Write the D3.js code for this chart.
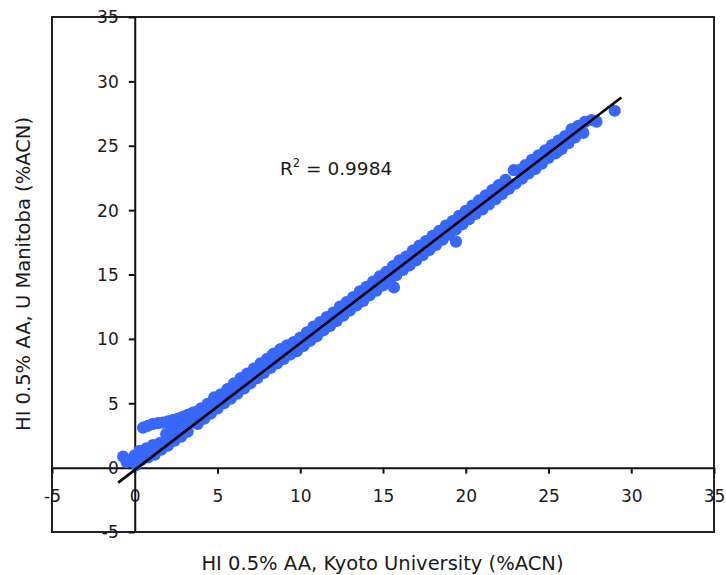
<!DOCTYPE html>
<html>
<head>
<meta charset="utf-8">
<script src="https://cdn.jsdelivr.net/npm/d3@7/dist/d3.min.js"></script>
<style>
  html, body { margin: 0; padding: 0; background: #fff; }
  svg { display: block; }
  text { font-family: "DejaVu Sans", Verdana, sans-serif; fill: #1a1a1a; }
</style>
</head>
<body>
<svg id="chart" width="726" height="575"></svg>
<script>
// Retention comparison: HI 0.5% AA, Kyoto University vs U Manitoba (%ACN)
const kyoto = [
  // early eluting peptides
  -0.7, -0.5, 0.0, 0.1, 0.3, 0.4, 0.7, 0.8, 1.1, 1.2, 1.5, 1.6, 1.9, 2.0, 2.3, 2.4, 2.7, 2.8, 3.1, 3.2,
  0.5, 0.8, 1.1, 1.4, 1.7, 2.0, 2.3, 2.6, 2.9, 3.2, 3.5, 3.8,
  1.9, 2.2, 2.5, 2.8, 3.1, 3.4,
  // 3.6 - 9.4
  3.6, 3.7, 3.8, 4.0, 4.1, 4.2, 4.4, 4.5, 4.6, 4.8, 4.9, 5.0, 5.2, 5.3, 5.4, 5.6, 5.7, 5.8,
  6.0, 6.1, 6.2, 6.4, 6.5, 6.6, 6.8, 6.9, 7.0, 7.2, 7.3, 7.4, 7.6, 7.7, 7.8,
  8.0, 8.1, 8.2, 8.3, 8.4, 8.5, 8.6, 8.8, 8.9, 9.0, 9.2, 9.3, 9.4,
  // 9.6 onward
  9.6, 9.8, 10.0, 10.2,
  10.4, 10.6, 10.8, 11.0, 11.2, 11.4, 11.6, 11.8, 12.0, 12.2, 12.4, 12.6, 12.8, 13.0,
  13.2, 13.4, 13.6, 13.8, 14.0, 14.2, 14.4, 14.6, 14.8, 15.0, 15.2, 15.4, 15.6, 15.66, 15.8,
  16.0, 16.2, 16.4, 16.6, 16.8, 17.0, 17.2, 17.4, 17.6, 17.8, 18.0, 18.2, 18.4, 18.6,
  18.8, 19.0, 19.2, 19.4, 19.41, 19.6, 19.8, 20.0, 20.2, 20.4, 20.6, 20.8, 21.0, 21.2, 21.4,
  21.6, 21.8, 22.0, 22.2, 22.4, 22.6, 22.9, 23.0, 23.2, 23.4, 23.6, 23.8, 24.0, 24.2,
  24.4, 24.6, 24.8, 25.0, 25.2, 25.4, 25.5, 25.6, 25.8, 26.0, 26.2, 26.4, 26.6, 26.8,
  27.1, 27.2, 27.6, 27.9, 29.0
];
const manitoba = [
  0.85, 0.45, 0.95, 0.2, 1.3, 0.6, 1.5, 0.8, 1.75, 1.0, 1.9, 1.4, 2.1, 1.7, 2.4, 2.1, 2.7, 2.4, 3.1, 2.8,
  3.1, 3.25, 3.4, 3.45, 3.5, 3.6, 3.7, 3.8, 3.95, 4.1, 4.25, 4.35,
  2.6, 2.9, 3.1, 3.2, 3.5, 3.7,
  4.30, 3.80, 3.40, 4.60, 4.20, 3.80, 4.95, 4.60, 4.20, 5.45, 5.00, 4.60, 5.70, 5.35, 5.00, 6.10, 5.80, 5.35,
  6.55, 6.15, 5.75, 6.95, 6.55, 6.15, 7.30, 6.95, 6.55, 7.70, 7.35, 6.95, 8.10, 7.75, 7.35,
  8.45, 8.15, 7.75, 8.70, 8.85, 8.50, 8.10, 9.20, 8.90, 8.45, 9.50, 9.25, 8.80,
  9.75, 9.05, 10.10, 9.45,
  10.50, 9.85, 10.95, 10.20, 11.30, 10.65, 11.70, 11.00, 12.05, 11.40, 12.50, 11.80, 12.85, 12.20,
  13.25, 12.60, 13.70, 12.95, 14.05, 13.40, 14.45, 13.75, 14.85, 14.15, 15.20, 14.55, 15.65, 14.00, 14.95,
  16.10, 15.35, 16.40, 15.70, 16.85, 16.10, 17.25, 16.50, 17.60, 16.90, 18.00, 17.30, 18.40, 17.70,
  18.80, 18.10, 19.15, 18.50, 17.55, 19.55, 18.90, 19.95, 19.30, 20.35, 19.70, 20.75, 20.05, 21.15, 20.45,
  21.55, 20.85, 21.95, 21.25, 22.35, 21.65, 23.10, 22.05, 23.10, 22.45, 23.50, 22.85, 23.90, 23.20,
  24.25, 23.60, 24.65, 24.05, 25.05, 24.40, 24.50, 25.40, 24.75, 25.75, 25.20, 26.30, 25.65, 26.55,
  26.00, 26.85, 27.00, 26.87, 27.72
];
// Linear trendline fitted to the series, and its stated fit
const trendSlope = 0.984;
const trendIntercept = -0.18;
const trendRange = [-1.0, 29.4];
const rSquared = "0.9984";
const tickValues = [-5, 0, 5, 10, 15, 20, 25, 30, 35];
const xTitle = "HI 0.5% AA, Kyoto University (%ACN)";
const yTitle = "HI 0.5% AA, U Manitoba (%ACN)";

const svg = d3.select("#chart");
const frame = { left: 52, top: 17, right: 714, bottom: 532 };

const x = d3.scaleLinear().domain([-5, 35]).range([frame.left, frame.right]);
const y = d3.scaleLinear().domain([-5, 35]).range([frame.bottom, frame.top]);
const fmt = d => String(d);   // plain hyphen for negatives

// Plot frame
svg.append("rect")
  .attr("x", frame.left).attr("y", frame.top)
  .attr("width", frame.right - frame.left).attr("height", frame.bottom - frame.top)
  .attr("fill", "none").attr("stroke", "#222").attr("stroke-width", 2);

// Axes crossing at the origin
const xAxis = svg.append("g")
  .attr("transform", `translate(0,${y(0)})`)
  .call(d3.axisBottom(x).tickValues(tickValues).tickSize(6).tickSizeOuter(0).tickFormat(fmt));
xAxis.select(".domain").attr("stroke", "#111").attr("stroke-width", 2);
xAxis.selectAll(".tick line").attr("stroke", "#111").attr("stroke-width", 2);
xAxis.selectAll(".tick text")
  .attr("y", 28.5).attr("dy", "0.35em")
  .style("font-size", "17px").style("font-family", "DejaVu Sans, Verdana, sans-serif").attr("fill", "#1a1a1a");

const yAxis = svg.append("g")
  .attr("transform", `translate(${x(0)},0)`)
  .call(d3.axisLeft(y).tickValues(tickValues).tickSize(6).tickSizeOuter(0).tickFormat(fmt));
yAxis.select(".domain").attr("stroke", "#111").attr("stroke-width", 2);
yAxis.selectAll(".tick line").attr("stroke", "#111").attr("stroke-width", 2);
yAxis.selectAll(".tick text")
  .attr("x", -16).attr("dy", "0.35em")
  .style("font-size", "17px").style("font-family", "DejaVu Sans, Verdana, sans-serif").attr("fill", "#1a1a1a");

// Data points
const points = kyoto.map((k, i) => ({ k, m: manitoba[i] }));
svg.append("g")
  .selectAll("circle")
  .data(points)
  .join("circle")
  .attr("cx", d => x(d.k))
  .attr("cy", d => y(d.m))
  .attr("r", 6.1)
  .attr("fill", "#3767fb");

// Trendline
const trend = trendRange.map(v => ({ k: v, m: trendSlope * v + trendIntercept }));
svg.append("path")
  .datum(trend)
  .attr("d", d3.line().x(d => x(d.k)).y(d => y(d.m)))
  .attr("stroke", "#000").attr("stroke-width", 2.6).attr("fill", "none");

// Fit annotation
const ann = svg.append("text")
  .attr("x", 280).attr("y", 175)
  .style("font-size", "18.5px");
ann.append("tspan").text("R");
ann.append("tspan").attr("dy", -8).style("font-size", "11.5px").text("2");
ann.append("tspan").attr("dy", 8).text(" = " + rSquared);

// Axis titles
svg.append("text")
  .attr("x", 382.5).attr("y", 570)
  .attr("text-anchor", "middle")
  .style("font-size", "19.5px")
  .text(xTitle);

svg.append("text")
  .attr("transform", `translate(30,274) rotate(-90)`)
  .attr("text-anchor", "middle")
  .style("font-size", "19.5px")
  .text(yTitle);
</script>
</body>
</html>
